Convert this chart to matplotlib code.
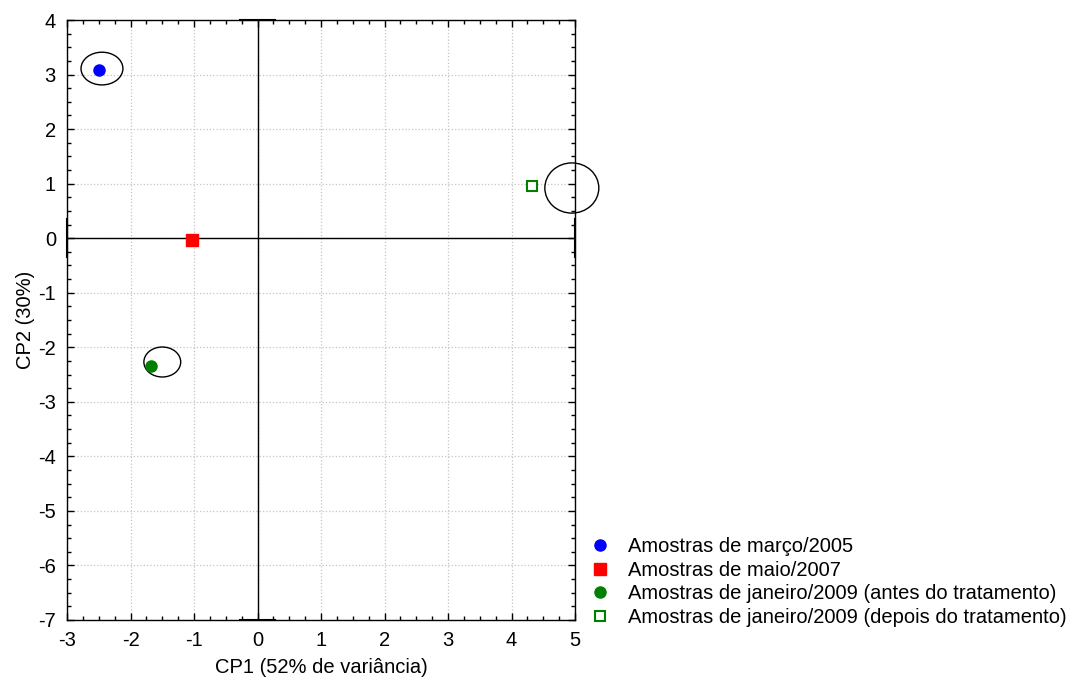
import matplotlib
matplotlib.use('Agg')
import matplotlib.pyplot as plt
import matplotlib.patches as patches
import matplotlib.ticker as ticker

plt.rcParams['font.family'] = ['Liberation Sans', 'DejaVu Sans']
plt.rcParams['font.size'] = 14.5
plt.rcParams['axes.unicode_minus'] = False

# scores of the four sample groups on the first two components
labels = ['Amostras de março/2005',
          'Amostras de maio/2007',
          'Amostras de janeiro/2009 (antes do tratamento)',
          'Amostras de janeiro/2009 (depois do tratamento)']
cp1 = [-2.50, -1.04, -1.68, 4.32]
cp2 = [3.08, -0.04, -2.34, 0.96]

# confidence ellipses (centre x, centre y, width, height)
ell_x = [-2.45, -1.50, 4.95]
ell_y = [3.11, -2.27, 0.92]
ell_w = [0.66, 0.58, 0.85]
ell_h = [0.60, 0.55, 0.92]

fig = plt.figure(figsize=(10.78, 6.81), dpi=100)
ax = fig.add_axes([0.0622, 0.0896, 0.4712, 0.881])

ax.set_xlim(-3, 5)
ax.set_ylim(-7, 4)
ax.xaxis.set_major_locator(ticker.MultipleLocator(1))
ax.yaxis.set_major_locator(ticker.MultipleLocator(1))
ax.xaxis.set_minor_locator(ticker.MultipleLocator(0.25))
ax.yaxis.set_minor_locator(ticker.MultipleLocator(0.25))
ax.tick_params(which='both', direction='in', top=True, right=True, width=1)
ax.tick_params(which='major', length=5, labelsize=14.5)
ax.tick_params(which='minor', length=3)
ax.tick_params(axis='x', which='major', pad=8)
ax.tick_params(axis='y', which='major', pad=8)
ax.grid(which='major', ls=':', color='#c4c4c4', lw=0.9)
for s in ax.spines.values():
    s.set_linewidth(1.0)

# axes through origin with end caps
ax.plot([0, 0], [-7, 4], c='k', lw=1, zorder=3)
ax.plot([-3, 5], [0, 0], c='k', lw=1, zorder=3)
ax.plot([-0.27, 0.27], [4, 4], c='k', lw=1.5, zorder=3, clip_on=False)
ax.plot([-0.27, 0.27], [-7, -7], c='k', lw=1.5, zorder=3, clip_on=False)
ax.plot([-3, -3], [-0.35, 0.35], c='k', lw=1.5, zorder=3, clip_on=False)
ax.plot([5, 5], [-0.35, 0.35], c='k', lw=1.5, zorder=3, clip_on=False)

for x, y, w, h in zip(ell_x, ell_y, ell_w, ell_h):
    ax.add_patch(patches.Ellipse((x, y), w, h, fill=False, ec='k', lw=1,
                                 zorder=4, clip_on=False))

ax.plot(cp1[0], cp2[0], 'o', c='#0000ff', ms=8, ls='none', label=labels[0], zorder=5)
ax.plot(cp1[1], cp2[1], 's', c='#ff0000', ms=8, ls='none', label=labels[1], zorder=5)
ax.plot(cp1[2], cp2[2], 'o', c='#008000', ms=8, ls='none', label=labels[2], zorder=5)
ax.plot(cp1[3], cp2[3], 's', mfc='white', mec='#008000', mew=1.5, ms=7, ls='none',
        label=labels[3], zorder=5)

ax.set_xlabel('CP1 (52% de variância)', fontsize=14.5, labelpad=6)
ax.set_ylabel('CP2 (30%)', fontsize=14.5, labelpad=2)

fig.legend(loc='lower left', bbox_to_anchor=(0.5395, 0.068), frameon=False,
           fontsize=14.5, handlelength=1.0, handletextpad=0.9,
           labelspacing=0.22, borderaxespad=0)

fig.savefig('out.png', dpi=100)
